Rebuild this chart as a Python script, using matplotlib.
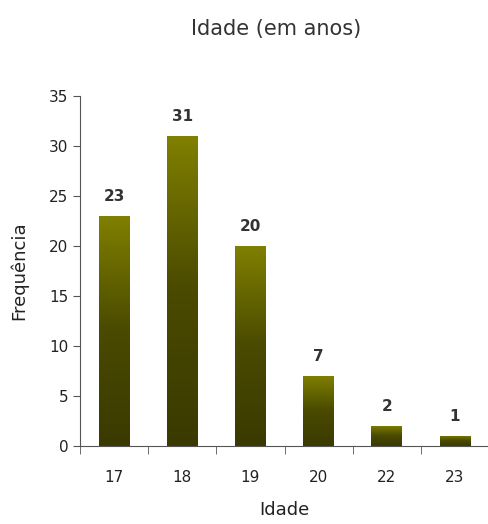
import numpy as np
import matplotlib.pyplot as plt
from matplotlib.colors import LinearSegmentedColormap

ages = ["17", "18", "19", "20", "22", "23"]
counts = [23, 31, 20, 7, 2, 1]

plt.rcParams["font.family"] = ["DejaVu Sans"]

fig = plt.figure(figsize=(4.88, 5.24), dpi=100)
ax = fig.add_axes([0.164, 0.149, 0.838, 0.668])

# vertical gradient, dark at the bottom of each bar
cmap = LinearSegmentedColormap.from_list("olive", ["#3a3a00", "#4a4a00", "#808000"])
grad = np.linspace(0, 1, 256).reshape(-1, 1)

x = np.arange(len(ages))
bars = ax.bar(x, counts, width=0.45, color="none", edgecolor="none")
for rect, val in zip(bars, counts):
    x0, w, h = rect.get_x(), rect.get_width(), rect.get_height()
    im = ax.imshow(grad, cmap=cmap, origin="lower", aspect="auto",
                   extent=[x0, x0 + w, 0, h], zorder=2)
    im.set_clip_path(rect)
    ax.text(x0 + w / 2, h + 1.2, str(val), ha="center", va="bottom",
            fontsize=11, fontweight="bold", color="#333333")

ax.set_xlim(-0.5, len(ages) - 0.5)
ax.set_ylim(0, 35)
ax.set_yticks(range(0, 36, 5))
ax.set_xticks(x)
ax.set_xticklabels(ages)
ax.set_xticks(np.arange(-0.5, len(ages) + 0.5, 1), minor=True)
ax.tick_params(axis="x", which="major", length=0, pad=17, labelsize=11, labelcolor="#222222")
ax.tick_params(axis="x", which="minor", length=6, direction="out", color="#555555")
ax.tick_params(axis="y", length=5, direction="out", color="#555555", labelsize=11, labelcolor="#222222")

for s in ["top", "right"]:
    ax.spines[s].set_visible(False)
for s in ["left", "bottom"]:
    ax.spines[s].set_color("#555555")

ax.set_xlabel("Idade", fontsize=13, color="#222222", labelpad=12)
ax.set_ylabel("Frequência", fontsize=13, color="#222222", labelpad=15)
fig.text(0.565, 0.945, "Idade (em anos)", ha="center", va="center", fontsize=15, color="#333333")

fig.savefig("out.png", dpi=100)
